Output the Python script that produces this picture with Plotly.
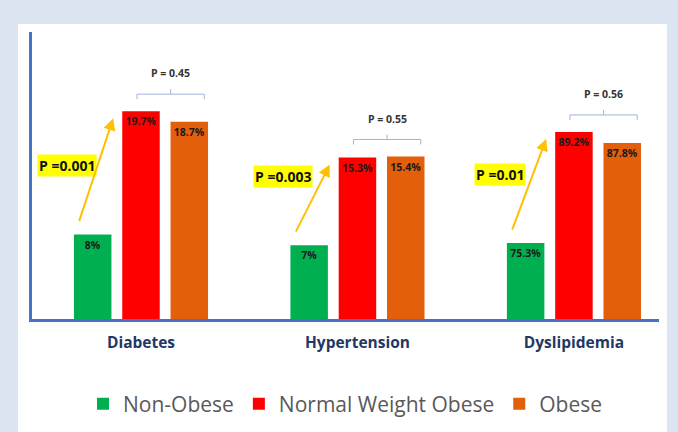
import plotly.graph_objects as go

# ---------------- data ----------------
categories = ["Diabetes", "Hypertension", "Dyslipidemia"]
series_names = ["Non-Obese", "Normal Weight Obese", "Obese"]
non_obese = [8, 7, 75.3]
normal_weight_obese = [19.7, 15.3, 89.2]
obese = [18.7, 15.4, 87.8]
p_trend = ["P =0.001", "P =0.003", "P =0.01"]
p_nwo_vs_obese = ["P = 0.45", "P = 0.55", "P = 0.56"]

# the original draws Dyslipidemia on its own (truncated) scale
group_axis = ["y", "y", "y2"]

# ---------------- style / geometry ----------------
colors = ["#00b050", "#ff0000", "#e35f0b"]
AXIS_BLUE = "#4472c4"
FONT = "Open Sans"
FIG_W, FIG_H = 678, 432
M_L, M_R, M_T, M_B = 32, 19, 32, 113
PW, PH = FIG_W - M_L - M_R, FIG_H - M_T - M_B
XR = [-0.5035, 2.393]
YR = {"y": [0, 27.2], "y2": [65.8, 101.7]}
XU = PW / (XR[1] - XR[0])                      # px per x unit
KY = {a: PH / (r[1] - r[0]) for a, r in YR.items()}  # px per y unit
STEP = 48.3 / XU
BW = 37.5 / XU

series_values = [non_obese, normal_weight_obese, obese]

fig = go.Figure()
for j, (name, vals, col) in enumerate(zip(series_names, series_values, colors)):
    off = (j - 1) * STEP - BW / 2
    for ax_id in ["y", "y2"]:
        idx = [i for i, a in enumerate(group_axis) if a == ax_id]
        fig.add_trace(go.Bar(
            x=idx,
            y=[vals[i] for i in idx],
            text=[f"{vals[i]:g}%" for i in idx],
            texttemplate="<b>%{text}</b>",
            textposition="inside",
            insidetextanchor="end",
            textangle=0,
            textfont=dict(family=FONT, size=10.5, color="#1a1a1a"),
            width=BW,
            offset=off,
            marker=dict(color=col, line=dict(width=0)),
            name=name,
            legendgroup=name,
            showlegend=(ax_id == "y"),
            yaxis=ax_id,
            hoverinfo="skip",
        ))

annotations = []
shapes = [dict(
    type="rect", xref="paper", yref="paper", layer="below",
    x0=(18 - M_L) / PW, x1=(667 - M_L) / PW,
    y0=-(M_B) / PH - 0.01, y1=(PH + M_T - 24) / PH,
    fillcolor="white", line=dict(width=0),
)]

for i in range(len(categories)):
    a = group_axis[i]
    k = KY[a]
    gx, rx, ox = i - STEP, i, i + STEP
    # trend p-value label
    annotations.append(dict(
        x=gx, y=non_obese[i], xref="x", yref=a, xshift=-26, yshift=69,
        text=f"<b>{p_trend[i]}</b>", showarrow=False,
        font=dict(family=FONT, size=14, color="#111111"),
        bgcolor="#ffff00", borderpad=1,
    ))
    # arrow from non-obese to normal-weight-obese
    annotations.append(dict(
        x=rx - BW / 2 - 9 / XU, y=normal_weight_obese[i] - 7 / k,
        ax=gx - 14 / XU, ay=non_obese[i] + 12 / k,
        xref="x", yref=a, axref="x", ayref=a,
        text="", showarrow=True, arrowhead=2, arrowsize=1.2,
        arrowwidth=2, arrowcolor="#ffc000", standoff=0, startstandoff=0,
    ))
    # bracket between NWO and obese
    xb0, xb1 = rx - 4 / XU, ox + 15 / XU
    xm = (xb0 + xb1) / 2
    yb = max(normal_weight_obese[i], obese[i]) + 17 / k
    d = 5 / k
    path = (f"M {xb0},{yb - d} L {xb0},{yb} L {xb1},{yb} L {xb1},{yb - d} "
            f"M {xm},{yb} L {xm},{yb + d}")
    shapes.append(dict(type="path", path=path, xref="x", yref=a,
                       line=dict(color="#9fb4dc", width=1)))
    annotations.append(dict(
        x=xm, y=yb, xref="x", yref=a, yshift=21,
        text=f"<b>{p_nwo_vs_obese[i]}</b>", showarrow=False,
        font=dict(family=FONT, size=10.5, color="#333333"),
    ))

fig.update_layout(
    template="none",
    width=FIG_W, height=FIG_H,
    margin=dict(l=M_L, r=M_R, t=M_T, b=M_B, pad=0, autoexpand=False),
    paper_bgcolor="#dbe4f1",
    plot_bgcolor="rgba(0,0,0,0)",
    barmode="overlay",
    showlegend=True,
    legend=dict(orientation="h", x=0.5, xanchor="center", y=-85 / PH,
                yanchor="middle", font=dict(family=FONT, size=21, color="#595959"),
                bgcolor="rgba(0,0,0,0)", traceorder="normal"),
    xaxis=dict(range=XR, tickvals=list(range(len(categories))),
               ticktext=[f"<b>{c}</b>" for c in categories],
               tickfont=dict(family=FONT, size=15.5, color="#1f3864"),
               showline=True, linecolor=AXIS_BLUE, linewidth=3,
               ticks="outside", ticklen=7, tickcolor="rgba(0,0,0,0)",
               showgrid=False, zeroline=False, fixedrange=True,
               automargin=False),
    yaxis=dict(range=YR["y"], showline=True, linecolor=AXIS_BLUE, linewidth=3,
               showticklabels=False, ticks="", showgrid=False, zeroline=False,
               automargin=False, fixedrange=True),
    yaxis2=dict(range=YR["y2"], overlaying="y", visible=False,
                showgrid=False, zeroline=False, automargin=False, fixedrange=True),
    annotations=annotations,
    shapes=shapes,
)

fig.write_html("out.html",
               config={"displayModeBar": False},
               post_script="document.body.style.margin='0';"
                           "document.body.style.overflow='hidden';")
